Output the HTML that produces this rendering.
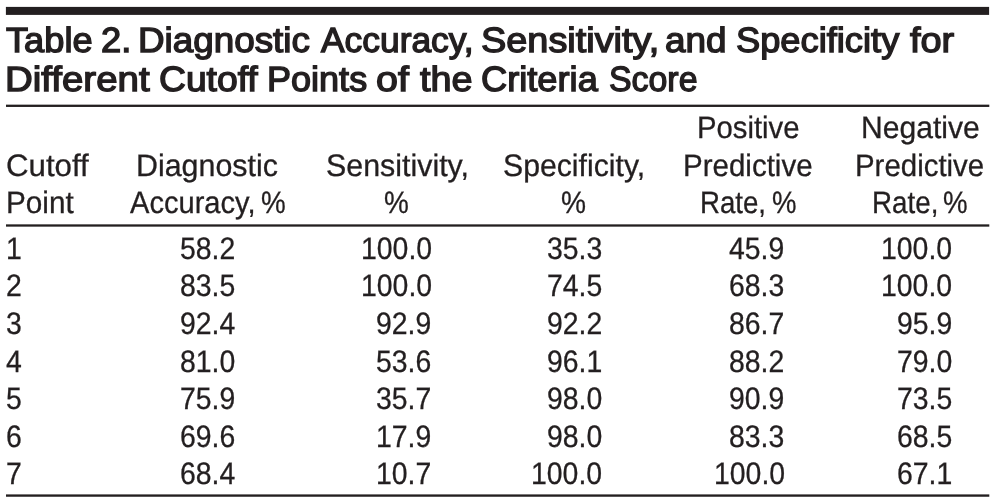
<!DOCTYPE html>
<html><head><meta charset="utf-8"><title>Table 2</title>
<style>
html,body{margin:0;padding:0;background:#fff;}
#p{position:relative;will-change:transform;width:997px;height:502px;overflow:hidden;background:#fff;color:#231f20;font-family:"Liberation Sans",sans-serif;}
#p span{position:absolute;white-space:pre;}
.b{text-rendering:geometricPrecision;font-weight:400;font-size:35.0px;line-height:35.0px;-webkit-text-stroke:1.4px #231f20;transform-origin:0 30px;}
.r{text-rendering:geometricPrecision;font-weight:400;font-size:31.0px;line-height:31.0px;-webkit-text-stroke:0.3px #231f20;transform-origin:0 26px;}
.l{position:absolute;background:#231f20;}
</style></head><body><div id="p">
<svg width="997" height="502" viewBox="0 0 997 502" style="position:absolute;left:0;top:0">
<rect x="5.9" y="6.9" width="983.2" height="8" fill="#231f20"/>
<rect x="6" y="104.65" width="983.3" height="2.3" fill="#231f20"/>
<rect x="6" y="224.35" width="983.3" height="2.3" fill="#231f20"/>
<rect x="6" y="494.4" width="983.3" height="2.35" fill="#231f20"/>
</svg>
<span class="b" style="left:6.30px;top:22.60px;transform:scale(1.0349,1.0)">Table</span>
<span class="b" style="left:101.26px;top:22.60px;transform:scale(1.0385,1.0)">2.</span>
<span class="b" style="left:138.30px;top:22.60px;transform:scale(1.0516,1.0)">Diagnostic</span>
<span class="b" style="left:321.01px;top:22.60px;transform:scale(1.0107,1.0)">Accuracy,</span>
<span class="b" style="left:480.72px;top:22.60px;transform:scale(1.0820,1.0)">Sensitivity,</span>
<span class="b" style="left:664.95px;top:22.60px;transform:scale(1.0536,1.0)">and</span>
<span class="b" style="left:735.96px;top:22.60px;transform:scale(1.0363,1.0)">Specificity</span>
<span class="b" style="left:909.90px;top:22.60px;transform:scale(1.0829,1.0)">for</span>
<span class="b" style="left:5.30px;top:62.30px;transform:scale(1.0985,1.0)">Different</span>
<span class="b" style="left:158.54px;top:62.30px;transform:scale(1.0641,1.0)">Cutoff</span>
<span class="b" style="left:266.74px;top:62.30px;transform:scale(1.0295,1.0)">Points</span>
<span class="b" style="left:376.28px;top:62.30px;transform:scale(1.1241,1.0)">of</span>
<span class="b" style="left:420.00px;top:62.30px;transform:scale(1.0812,1.0)">the</span>
<span class="b" style="left:481.46px;top:62.30px;transform:scale(1.0357,1.0)">Criteria</span>
<span class="b" style="left:608.73px;top:62.30px;transform:scale(0.9678,1.0)">Score</span>
<span class="r" style="left:5.79px;top:149.50px;transform:scale(1.0074,1.0)">Cutoff</span>
<span class="r" style="left:5.88px;top:186.50px;transform:scale(0.9580,1.0)">Point</span>
<span class="r" style="left:136.14px;top:149.50px;transform:scale(0.9803,1.0)">Diagnostic</span>
<span class="r" style="left:130.40px;top:186.50px;transform:scale(0.9382,1.0)">Accuracy,</span>
<span class="r" style="left:261.40px;top:186.50px;transform:scale(0.8962,1.0)">%</span>
<span class="r" style="left:325.72px;top:149.50px;transform:scale(0.9803,1.0)">Sensitivity,</span>
<span class="r" style="left:383.70px;top:186.50px;transform:scale(0.9000,1.0)">%</span>
<span class="r" style="left:503.23px;top:149.50px;transform:scale(0.9746,1.0)">Specificity,</span>
<span class="r" style="left:560.69px;top:186.50px;transform:scale(0.9077,1.0)">%</span>
<span class="r" style="left:696.61px;top:112.20px;transform:scale(0.9448,1.0)">Positive</span>
<span class="r" style="left:682.90px;top:149.50px;transform:scale(0.9519,1.0)">Predictive</span>
<span class="r" style="left:699.52px;top:186.50px;transform:scale(0.8914,1.0)">Rate,</span>
<span class="r" style="left:771.91px;top:186.50px;transform:scale(0.8885,1.0)">%</span>
<span class="r" style="left:860.76px;top:112.20px;transform:scale(0.9706,1.0)">Negative</span>
<span class="r" style="left:855.20px;top:149.50px;transform:scale(0.9489,1.0)">Predictive</span>
<span class="r" style="left:871.71px;top:186.50px;transform:scale(0.8957,1.0)">Rate,</span>
<span class="r" style="left:943.41px;top:186.50px;transform:scale(0.8923,1.0)">%</span>
<span class="r" style="left:6.00px;top:233.00px;transform:scale(0.9162,1.0)">1</span>
<span class="r" style="left:179.51px;top:233.00px;transform:scale(0.9162,1.0)">58.2</span>
<span class="r" style="left:360.62px;top:233.00px;transform:scale(0.9162,1.0)">100.0</span>
<span class="r" style="left:547.11px;top:233.00px;transform:scale(0.9162,1.0)">35.3</span>
<span class="r" style="left:729.41px;top:233.00px;transform:scale(0.9162,1.0)">45.9</span>
<span class="r" style="left:881.32px;top:233.00px;transform:scale(0.9162,1.0)">100.0</span>
<span class="r" style="left:6.00px;top:270.00px;transform:scale(0.9162,1.0)">2</span>
<span class="r" style="left:179.51px;top:270.00px;transform:scale(0.9162,1.0)">83.5</span>
<span class="r" style="left:360.62px;top:270.00px;transform:scale(0.9162,1.0)">100.0</span>
<span class="r" style="left:547.11px;top:270.00px;transform:scale(0.9162,1.0)">74.5</span>
<span class="r" style="left:729.41px;top:270.00px;transform:scale(0.9162,1.0)">68.3</span>
<span class="r" style="left:881.32px;top:270.00px;transform:scale(0.9162,1.0)">100.0</span>
<span class="r" style="left:6.00px;top:308.00px;transform:scale(0.9162,1.0)">3</span>
<span class="r" style="left:179.51px;top:308.00px;transform:scale(0.9162,1.0)">92.4</span>
<span class="r" style="left:376.41px;top:308.00px;transform:scale(0.9162,1.0)">92.9</span>
<span class="r" style="left:547.11px;top:308.00px;transform:scale(0.9162,1.0)">92.2</span>
<span class="r" style="left:729.41px;top:308.00px;transform:scale(0.9162,1.0)">86.7</span>
<span class="r" style="left:897.11px;top:308.00px;transform:scale(0.9162,1.0)">95.9</span>
<span class="r" style="left:6.00px;top:346.00px;transform:scale(0.9162,1.0)">4</span>
<span class="r" style="left:179.51px;top:346.00px;transform:scale(0.9162,1.0)">81.0</span>
<span class="r" style="left:376.41px;top:346.00px;transform:scale(0.9162,1.0)">53.6</span>
<span class="r" style="left:547.11px;top:346.00px;transform:scale(0.9162,1.0)">96.1</span>
<span class="r" style="left:729.41px;top:346.00px;transform:scale(0.9162,1.0)">88.2</span>
<span class="r" style="left:897.11px;top:346.00px;transform:scale(0.9162,1.0)">79.0</span>
<span class="r" style="left:6.00px;top:383.00px;transform:scale(0.9162,1.0)">5</span>
<span class="r" style="left:179.51px;top:383.00px;transform:scale(0.9162,1.0)">75.9</span>
<span class="r" style="left:376.41px;top:383.00px;transform:scale(0.9162,1.0)">35.7</span>
<span class="r" style="left:547.11px;top:383.00px;transform:scale(0.9162,1.0)">98.0</span>
<span class="r" style="left:729.41px;top:383.00px;transform:scale(0.9162,1.0)">90.9</span>
<span class="r" style="left:897.11px;top:383.00px;transform:scale(0.9162,1.0)">73.5</span>
<span class="r" style="left:6.00px;top:421.00px;transform:scale(0.9162,1.0)">6</span>
<span class="r" style="left:179.51px;top:421.00px;transform:scale(0.9162,1.0)">69.6</span>
<span class="r" style="left:376.41px;top:421.00px;transform:scale(0.9162,1.0)">17.9</span>
<span class="r" style="left:547.11px;top:421.00px;transform:scale(0.9162,1.0)">98.0</span>
<span class="r" style="left:729.41px;top:421.00px;transform:scale(0.9162,1.0)">83.3</span>
<span class="r" style="left:897.11px;top:421.00px;transform:scale(0.9162,1.0)">68.5</span>
<span class="r" style="left:6.00px;top:458.00px;transform:scale(0.9162,1.0)">7</span>
<span class="r" style="left:179.51px;top:458.00px;transform:scale(0.9162,1.0)">68.4</span>
<span class="r" style="left:376.41px;top:458.00px;transform:scale(0.9162,1.0)">10.7</span>
<span class="r" style="left:531.32px;top:458.00px;transform:scale(0.9162,1.0)">100.0</span>
<span class="r" style="left:713.62px;top:458.00px;transform:scale(0.9162,1.0)">100.0</span>
<span class="r" style="left:897.11px;top:458.00px;transform:scale(0.9162,1.0)">67.1</span>
</div></body></html>
